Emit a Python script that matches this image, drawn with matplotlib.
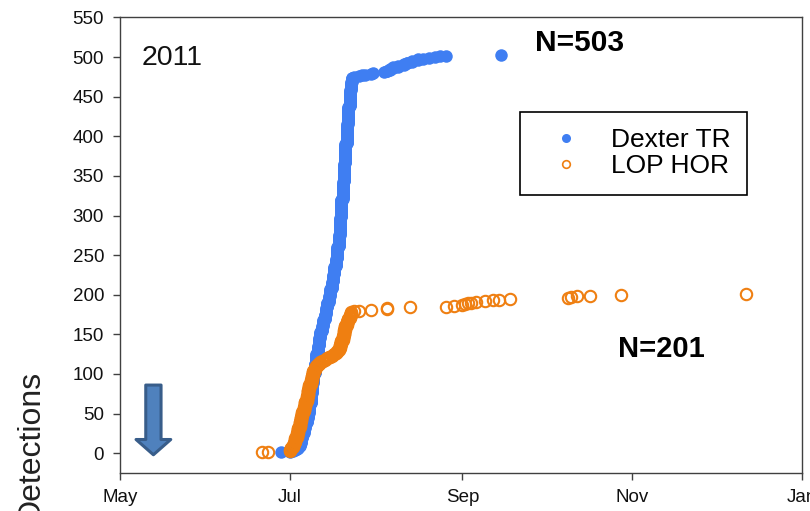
import matplotlib
matplotlib.use('Agg')
import matplotlib.pyplot as plt
import matplotlib.dates as mdates
from matplotlib.lines import Line2D
import pandas as pd

plt.rcParams['font.family'] = ['Liberation Sans', 'DejaVu Sans']

# ---- data: detection time slot and cumulative detections at the end of that slot
dexter_dates = ['2011-06-28', '2011-07-01', '2011-07-02', '2011-07-03', '2011-07-03 12:00',
                '2011-07-04', '2011-07-04 12:00', '2011-07-05', '2011-07-05 12:00',
                '2011-07-06', '2011-07-06 12:00', '2011-07-07', '2011-07-07 12:00',
                '2011-07-08', '2011-07-08 12:00', '2011-07-09', '2011-07-09 12:00',
                '2011-07-10', '2011-07-10 12:00', '2011-07-11', '2011-07-11 12:00',
                '2011-07-12', '2011-07-12 12:00', '2011-07-13', '2011-07-13 12:00',
                '2011-07-14', '2011-07-14 12:00', '2011-07-15', '2011-07-15 12:00',
                '2011-07-16', '2011-07-16 12:00', '2011-07-17', '2011-07-17 12:00',
                '2011-07-18', '2011-07-18 12:00', '2011-07-19', '2011-07-19 12:00',
                '2011-07-20', '2011-07-20 12:00', '2011-07-21', '2011-07-21 12:00',
                '2011-07-22', '2011-07-22 12:00', '2011-07-23', '2011-07-23 12:00',
                '2011-07-24', '2011-07-26', '2011-07-27', '2011-07-28', '2011-07-30',
                '2011-07-31', '2011-08-04', '2011-08-05', '2011-08-06', '2011-08-07',
                '2011-08-09', '2011-08-11', '2011-08-12', '2011-08-14', '2011-08-16',
                '2011-08-18', '2011-08-20', '2011-08-22', '2011-08-24', '2011-08-26',
                '2011-09-15']
dexter_cum = [1, 2, 3, 4, 5,
              8, 12, 18, 25,
              31, 38, 44, 50,
              62, 75, 88, 100,
              113, 125, 135, 145,
              153, 160, 168, 175,
              183, 190, 198, 207,
              216, 225, 235, 245,
              260, 275, 297, 320,
              342, 365, 390, 415,
              437, 458, 468, 474,
              475, 476, 477, 478, 479,
              480, 481, 483, 485, 487,
              489, 491, 493, 495, 497,
              498, 499, 500, 501, 502,
              503]

lop_dates = ['2011-06-21', '2011-06-23', '2011-07-01', '2011-07-01 12:00',
             '2011-07-02', '2011-07-02 12:00', '2011-07-03', '2011-07-03 12:00',
             '2011-07-04', '2011-07-04 12:00', '2011-07-05', '2011-07-05 12:00',
             '2011-07-06', '2011-07-06 12:00', '2011-07-07', '2011-07-07 12:00',
             '2011-07-08', '2011-07-08 12:00', '2011-07-09', '2011-07-09 12:00',
             '2011-07-10', '2011-07-10 12:00', '2011-07-11', '2011-07-11 12:00',
             '2011-07-12', '2011-07-12 12:00', '2011-07-13', '2011-07-13 12:00',
             '2011-07-14', '2011-07-14 12:00', '2011-07-15', '2011-07-15 12:00',
             '2011-07-16', '2011-07-16 12:00', '2011-07-17', '2011-07-17 12:00',
             '2011-07-18', '2011-07-18 12:00', '2011-07-19', '2011-07-19 12:00',
             '2011-07-20', '2011-07-20 12:00', '2011-07-21', '2011-07-21 12:00',
             '2011-07-22', '2011-07-22 12:00', '2011-07-23',
             '2011-07-24', '2011-07-26', '2011-07-30', '2011-08-05', '2011-08-13',
             '2011-08-26', '2011-08-29', '2011-09-01', '2011-09-02', '2011-09-03',
             '2011-09-04', '2011-09-06', '2011-09-09', '2011-09-12', '2011-09-14',
             '2011-09-18', '2011-10-09', '2011-10-10', '2011-10-12', '2011-10-17',
             '2011-10-28', '2011-12-12']
lop_cum = [1, 2, 4, 7,
           10, 13, 19, 25,
           32, 40, 46, 52,
           58, 65, 72, 80,
           86, 92, 98, 104,
           108, 110, 112, 113,
           115, 116, 117, 118,
           119, 120, 121, 122,
           123, 124, 125, 127,
           129, 132, 137, 142,
           148, 155, 161, 166,
           170, 174, 178,
           179, 180, 181, 183, 184,
           185, 186, 187, 188, 189,
           190, 191, 192, 193, 194,
           195, 196, 197, 198, 199,
           200, 201]

xtick_dates = ['2011-05-01', '2011-07-01', '2011-09-01', '2011-11-01', '2012-01-01']
xtick_labels = ['May', 'Jul', 'Sep', 'Nov', 'Jan']
yticks = list(range(0, 551, 50))
series_labels = ['Dexter TR', 'LOP HOR']
n_labels = ['N=503', 'N=201']
year_label = '2011'
arrow_date = '2011-05-13'

BLUE = '#3f7ef2'
ORANGE = '#ef7f11'


def expand(dates, cum):
    xs, ys = [], []
    prev = 0
    for d, c in zip(dates, cum):
        for k in range(prev + 1, c + 1):
            xs.append(mdates.date2num(pd.Timestamp(d)))
            ys.append(k)
        prev = c
    return xs, ys


fig = plt.figure(figsize=(8.1, 5.11), dpi=100)
ax = fig.add_axes([120 / 810, 1 - 473 / 511, 682 / 810, 455.5 / 511])

bx, by = expand(dexter_dates, dexter_cum)
ox, oy = expand(lop_dates, lop_cum)
ax.plot(bx, by, 'o', ls='none', color=BLUE, ms=9, mew=0, zorder=3)
ax.plot(ox, oy, 'o', ls='none', mfc='none', mec=ORANGE, ms=8.2, mew=1.5, zorder=4)

xt = [mdates.date2num(pd.Timestamp(d)) for d in xtick_dates]
ax.set_xlim(xt[0], xt[-1])
ax.set_ylim(-25, 550)
ax.set_xticks(xt)
ax.set_xticklabels(xtick_labels)
ax.set_yticks(yticks)

for s in ax.spines.values():
    s.set_color('#404040')
    s.set_linewidth(1.0)
ax.tick_params(direction='out', length=5, width=1, pad=6.5, labelsize=13.5,
               color='#404040', labelcolor='#111111')

ax.set_ylabel('Detections', fontsize=23, color='#222222')
ax.yaxis.label.set_va('center')
ax.yaxis.set_label_coords(-0.132, 0.06)

ax.text(0.0323, 0.912, year_label, transform=ax.transAxes, fontsize=20.5,
        ha='left', va='center', color='#111111')
ax.text(0.6085, 0.944, n_labels[0], transform=ax.transAxes, fontsize=21.5,
        fontweight='bold', ha='left', va='center', color='black')
ax.text(0.730, 0.272, n_labels[1], transform=ax.transAxes, fontsize=21,
        fontweight='bold', ha='left', va='center', color='black')

ad = mdates.date2num(pd.Timestamp(arrow_date))
ax.annotate('', xy=(ad, -2), xytext=(ad, 86),
            arrowprops=dict(arrowstyle='simple,head_length=11,head_width=25,tail_width=11',
                            mutation_scale=1, fc='#4f81bd', ec='#385d8a', lw=2.2,
                            shrinkA=0, shrinkB=0), zorder=5)

handles = [Line2D([], [], marker='o', ls='none', color=BLUE, ms=6.5, mew=0,
                  label=series_labels[0]),
           Line2D([], [], marker='o', ls='none', mfc='none', mec=ORANGE, ms=5.5,
                  mew=1.2, label=series_labels[1])]
leg = ax.legend(handles=handles, loc='upper left', bbox_to_anchor=(0.587, 0.7925),
                borderaxespad=0, fontsize=19, fancybox=False, framealpha=1,
                edgecolor='black', borderpad=0.62, handlelength=2.2,
                handletextpad=0.62, labelspacing=0.08)
leg.get_frame().set_linewidth(1.2)

fig.savefig('out.png', dpi=100)
